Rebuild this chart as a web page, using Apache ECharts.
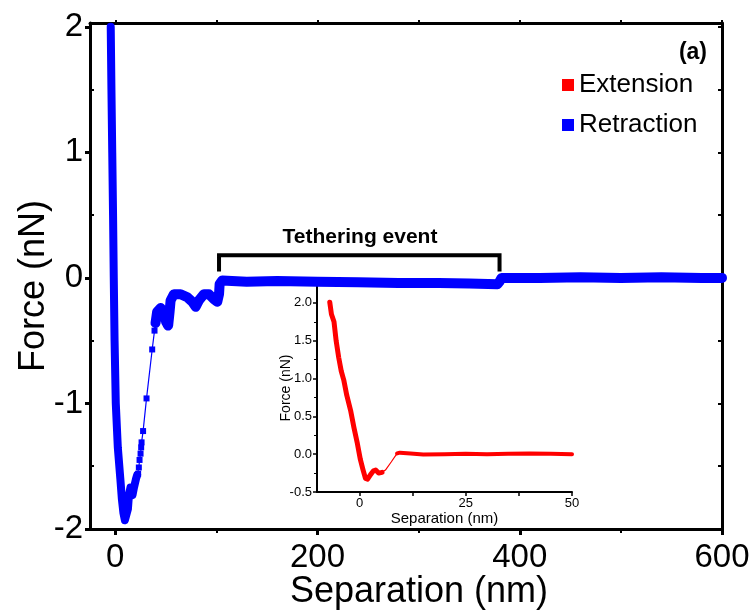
<!DOCTYPE html>
<html>
<head>
<meta charset="utf-8">
<script src="https://cdn.jsdelivr.net/npm/echarts@6/dist/echarts.min.js"></script>
<style>
  html, body { margin: 0; padding: 0; background: #fff; }
  #chart { width: 753px; height: 613px; }
</style>
</head>
<body>
<div id="chart"></div>
<script>
// Retraction curve (main panel), separation in nm, force in nN.
// Densely sampled stretch: contact, descent and adhesion minimum.
const retractContact = [
  [-4.5, 2.0], [-3.8, 1.5], [-3.0, 1.0], [-2.2, 0.5], [-1.5, 0.0], [-0.7, -0.5],
  [0.5, -1.0], [2.5, -1.35], [5.0, -1.6], [6.5, -1.76], [8.0, -1.87], [9.5, -1.93],
  [11.0, -1.93], [12.5, -1.84], [13.5, -1.73], [15.0, -1.67], [17.0, -1.73],
  [18.5, -1.67], [20.5, -1.6], [21.6, -1.57]
];
// Sparse points while the tip snaps away from the surface
const retractSnap = [
  [21.6, -1.57], [22.6, -1.56], [23.3, -1.51], [24.0, -1.45], [25.0, -1.40],
  [25.6, -1.35], [26.0, -1.31], [27.5, -1.22], [30.9, -0.96], [36.5, -0.57],
  [38.8, -0.42], [39.8, -0.36]
];
// Dense record again: small ruptures, the tether plateau and the final baseline
const retractTether = [
  [39.8, -0.36], [41.4, -0.27], [44.8, -0.24], [48.0, -0.27], [50.3, -0.35],
  [52.3, -0.38], [53.7, -0.27], [54.7, -0.18], [58.0, -0.13], [64.6, -0.13],
  [71.2, -0.155], [76.1, -0.19], [79.5, -0.23], [82.7, -0.18], [87.7, -0.13],
  [92.6, -0.13], [97.6, -0.17], [100.9, -0.19], [102.6, -0.13], [103.2, -0.05],
  [105.8, -0.02], [130, -0.03], [160, -0.025], [200, -0.03], [240, -0.035],
  [280, -0.04], [320, -0.04], [350, -0.045], [378, -0.05], [380, -0.03],
  [382, 0.0], [420, 0.0], [460, 0.005], [500, 0.0], [540, 0.005], [580, 0.0], [600, 0.0]
];

// Extension curve (inset)
const extendContact = [
  [-7.0, 2.01], [-6.6, 1.85], [-6.0, 1.75], [-5.5, 1.5], [-4.9, 1.28], [-4.3, 1.1],
  [-3.7, 0.98], [-3.0, 0.78], [-2.1, 0.58], [-1.3, 0.35], [-0.5, 0.14], [0.2, -0.07],
  [0.8, -0.2], [1.4, -0.32], [1.9, -0.33], [2.6, -0.27], [3.3, -0.22], [3.8, -0.21],
  [4.5, -0.25], [5.3, -0.24]
];
const extendJump = [[5.3, -0.24], [6.1, -0.21], [7.5, -0.1], [8.85, 0.01]];
const extendBaseline = [
  [8.85, 0.01], [9.5, 0.02], [12, 0.01], [15, -0.005], [20, 0.0], [25, 0.005],
  [30, 0.0], [35, 0.005], [40, 0.01], [45, 0.005], [50, 0.0]
];

// Bracket marking the tethering plateau (nm, nN)
const bracketX = [102.6, 380];
const bracketTop = 0.18;
const bracketFoot = 0.05;

// Tick values
const mainXTicks = [0, 200, 400, 600];
const mainXMinor = [100, 300, 500];
const mainYMinor = [-1.5, -0.5, 0.5, 1.5];

const FONT = 'Liberation Sans, Arial, sans-serif';
const BLUE = '#0000ff';
const RED = '#ff0000';

const bracket = [
  [bracketX[0], bracketFoot], [bracketX[0], bracketTop],
  [bracketX[1], bracketTop], [bracketX[1], bracketFoot]
];

const chart = echarts.init(document.getElementById('chart'), null, { renderer: 'canvas' });

chart.setOption({
  animation: false,
  backgroundColor: '#fff',
  textStyle: { fontFamily: FONT },
  grid: [
    { left: 90, right: 31, top: 23, bottom: 84 },
    { left: 317, top: 284, width: 255, height: 208 }
  ],
  legend: {
    orient: 'vertical',
    left: 562, top: 70, padding: 0,
    icon: 'rect', itemWidth: 12, itemHeight: 12, itemGap: 10,
    data: ['Extension', 'Retraction'],
    textStyle: { fontSize: 26, color: '#000', fontFamily: FONT, lineHeight: 30 }
  },
  xAxis: [
    { // main bottom: labels and major ticks
      gridIndex: 0, type: 'value', min: -25, max: 600, position: 'bottom',
      axisLine: { show: true, onZero: false, lineStyle: { color: '#000', width: 3 } },
      axisTick: { show: true, length: 6, customValues: mainXTicks, lineStyle: { width: 3 } },
      axisLabel: { fontSize: 33, color: '#000', margin: 12, customValues: mainXTicks, fontFamily: FONT },
      splitLine: { show: false }
    },
    { // main bottom: minor ticks
      gridIndex: 0, type: 'value', min: -25, max: 600, position: 'bottom',
      axisLine: { show: false, onZero: false },
      axisTick: { show: true, length: 4, customValues: mainXMinor, lineStyle: { width: 2, color: '#000' } },
      axisLabel: { show: false }, splitLine: { show: false }
    },
    { // main top frame
      gridIndex: 0, type: 'value', min: -25, max: 600, position: 'top',
      axisLine: { show: true, onZero: false, lineStyle: { color: '#000', width: 3 } },
      axisTick: { show: true, length: 3, customValues: [0, 100, 200, 300, 400, 500, 600], lineStyle: { width: 2 } },
      axisLabel: { show: false }, splitLine: { show: false }
    },
    { // inset
      gridIndex: 1, type: 'value', min: -10, max: 50, interval: 10,
      name: 'Separation (nm)', nameLocation: 'middle', nameGap: 19, nameMoveOverlap: false,
      nameTextStyle: { fontSize: 15, color: '#000', fontFamily: FONT, verticalAlign: 'top' },
      axisLine: { show: true, onZero: false, lineStyle: { color: '#000', width: 2 } },
      axisTick: { show: true, length: 4, customValues: [0, 12.5, 25, 37.5, 50], lineStyle: { width: 1.5 } },
      axisLabel: { fontSize: 13, color: '#000', margin: 5, customValues: [0, 25, 50], fontFamily: FONT },
      splitLine: { show: false }
    }
  ],
  yAxis: [
    { // main left: labels and major ticks
      gridIndex: 0, type: 'value', min: -2, max: 2.03, interval: 1, position: 'left',
      axisLine: { show: true, onZero: false, lineStyle: { color: '#000', width: 3 } },
      axisTick: { show: true, length: 5, lineStyle: { width: 3 } },
      axisLabel: { fontSize: 33, color: '#000', margin: 7, fontFamily: FONT, showMinLabel: true, showMaxLabel: false, padding: [4, 0, 0, 0] },
      splitLine: { show: false }
    },
    { // main left: inward minor ticks
      gridIndex: 0, type: 'value', min: -2, max: 2.03, position: 'left',
      axisLine: { show: false, onZero: false },
      axisTick: { show: true, inside: true, length: 4, customValues: mainYMinor, lineStyle: { width: 2, color: '#000' } },
      axisLabel: { show: false }, splitLine: { show: false }
    },
    { // main right frame
      gridIndex: 0, type: 'value', min: -2, max: 2.03, position: 'right',
      axisLine: { show: true, onZero: false, lineStyle: { color: '#000', width: 3 } },
      axisTick: { show: true, inside: true, length: 4, customValues: [-2, -1.5, -1, -0.5, 0, 0.5, 1, 1.5, 2], lineStyle: { width: 2 } },
      axisLabel: { show: false }, splitLine: { show: false }
    },
    { // inset
      gridIndex: 1, type: 'value', min: -0.5, max: 2.25, interval: 0.5,
      name: 'Force (nN)', nameLocation: 'middle', nameGap: 24, nameMoveOverlap: false,
      nameTextStyle: { fontSize: 14, color: '#000', fontFamily: FONT },
      axisLine: { show: true, onZero: false, lineStyle: { color: '#000', width: 2 } },
      axisTick: { show: true, length: 4, lineStyle: { width: 1.5 } },
      minorTick: { show: true, splitNumber: 2, length: 3, lineStyle: { color: '#000', width: 1 } },
      axisLabel: { fontSize: 13, color: '#000', margin: 5, fontFamily: FONT, formatter: v => v.toFixed(1), showMaxLabel: false },
      splitLine: { show: false }
    }
  ],
  series: [
    {
      name: 'Extension', type: 'line', xAxisIndex: 3, yAxisIndex: 3,
      data: extendContact, showSymbol: false, color: RED,
      lineStyle: { color: RED, width: 5, join: 'round', cap: 'round' }, z: 3
    },
    {
      name: 'ExtensionJump', type: 'line', xAxisIndex: 3, yAxisIndex: 3,
      data: extendJump, showSymbol: false,
      lineStyle: { color: RED, width: 1.2 }, z: 3
    },
    {
      name: 'ExtensionBase', type: 'line', xAxisIndex: 3, yAxisIndex: 3,
      data: extendBaseline, showSymbol: false,
      lineStyle: { color: RED, width: 4, join: 'round', cap: 'round' }, z: 3
    },
    {
      name: 'Retraction', type: 'line', xAxisIndex: 0, yAxisIndex: 0,
      data: retractContact, showSymbol: false, color: BLUE,
      lineStyle: { color: BLUE, width: 8, join: 'round', cap: 'round' }, z: 5
    },
    {
      name: 'RetractionSnap', type: 'line', xAxisIndex: 0, yAxisIndex: 0,
      data: retractSnap, symbol: 'rect', symbolSize: 6, showSymbol: true,
      itemStyle: { color: BLUE }, lineStyle: { color: BLUE, width: 1.2 }, z: 5
    },
    {
      name: 'RetractionTether', type: 'line', xAxisIndex: 0, yAxisIndex: 0,
      data: retractTether, showSymbol: false,
      lineStyle: { color: BLUE, width: 10, join: 'round', cap: 'round' }, z: 5
    },
    {
      name: 'Bracket', type: 'line', xAxisIndex: 0, yAxisIndex: 0,
      data: bracket, showSymbol: false, silent: true,
      lineStyle: { color: '#000', width: 4, join: 'miter' }, z: 4
    }
  ],
  graphic: [
    {
      type: 'text', z: 10,
      style: { x: 360, y: 237, text: 'Tethering event', font: 'bold 21px ' + FONT, fill: '#000', textAlign: 'center', textVerticalAlign: 'middle' }
    },
    {
      type: 'text', z: 10,
      style: { x: 707, y: 53, text: '(a)', font: 'bold 23px ' + FONT, fill: '#000', textAlign: 'right', textVerticalAlign: 'middle' }
    },
    { // main axis titles
      type: 'text', z: 10,
      style: { x: 419, y: 592, text: 'Separation (nm)', font: '36px ' + FONT, fill: '#000', textAlign: 'center', textVerticalAlign: 'middle' }
    },
    {
      type: 'text', z: 10, x: 34, y: 286, rotation: Math.PI / 2,
      style: { x: 0, y: 0, text: 'Force (nN)', font: '36px ' + FONT, fill: '#000', textAlign: 'center', textVerticalAlign: 'middle' }
    }
  ]
});
</script>
</body>
</html>
